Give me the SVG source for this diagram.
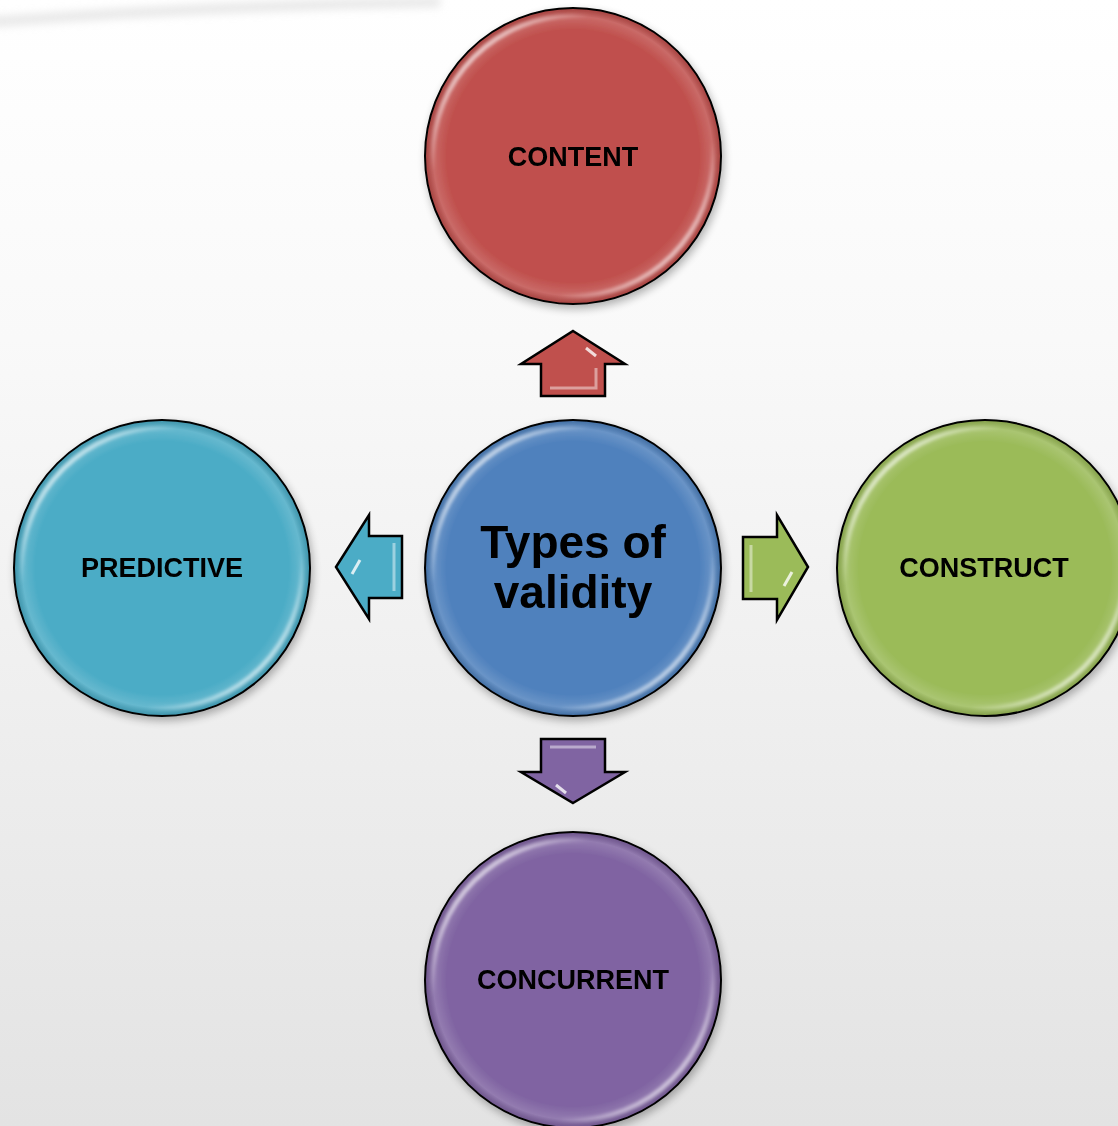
<svg xmlns="http://www.w3.org/2000/svg" width="1118" height="1126" viewBox="0 0 1118 1126">
<defs>
<linearGradient id="bg" x1="0" y1="0" x2="0" y2="1">
<stop offset="0" stop-color="#ffffff"/>
<stop offset="0.3" stop-color="#f9f9f9"/>
<stop offset="1" stop-color="#e3e3e3"/>
</linearGradient>
<linearGradient id="gloss" x1="0" y1="0" x2="1" y2="1">
<stop offset="0.05" stop-color="#fff" stop-opacity="0.95"/>
<stop offset="0.28" stop-color="#fff" stop-opacity="0"/>
<stop offset="0.72" stop-color="#fff" stop-opacity="0"/>
<stop offset="0.95" stop-color="#fff" stop-opacity="0.85"/>
</linearGradient>
<radialGradient id="rim">
<stop offset="0.86" stop-color="#fff" stop-opacity="0"/>
<stop offset="0.95" stop-color="#fff" stop-opacity="0.15"/>
<stop offset="1" stop-color="#000" stop-opacity="0.12"/>
</radialGradient>
<filter id="soft" x="-10%" y="-10%" width="120%" height="120%"><feGaussianBlur stdDeviation="1.4"/></filter>
<filter id="blur8" x="-10%" y="-200%" width="120%" height="500%"><feGaussianBlur stdDeviation="4"/></filter>
<filter id="shadow" x="-10%" y="-10%" width="125%" height="125%"><feGaussianBlur in="SourceAlpha" stdDeviation="4"/><feOffset dx="2" dy="4"/><feComponentTransfer><feFuncA type="linear" slope="0.3"/></feComponentTransfer><feMerge><feMergeNode/><feMergeNode in="SourceGraphic"/></feMerge></filter>
</defs>
<style>
.disc{stroke:#000;stroke-width:2}
.hl{fill:none;stroke:url(#gloss);stroke-width:5;filter:url(#soft)}
.rim{fill:url(#rim)}
.lbl{font-family:"Liberation Sans",Arial,sans-serif;font-weight:bold;font-size:27px;fill:#000;text-anchor:middle}
.big{font-family:"Liberation Sans",Arial,sans-serif;font-weight:bold;font-size:46px;fill:#000;text-anchor:middle}
.arr{stroke:#000;stroke-width:2.5;stroke-linejoin:miter}
.bev{fill:none;stroke:#fff;stroke-opacity:0.45;stroke-width:3}
</style>
<rect width="1118" height="1126" fill="url(#bg)"/>
<path d="M-10,22 C150,10 300,4 440,2" fill="none" stroke="#d8d8d8" stroke-width="10" opacity="0.6" filter="url(#blur8)"/>

<g id="connectors">
<g id="arrow-up">
<polygon class="arr" fill="#C0504D" points="573,331 625,364 605,364 605,396 541,396 541,364 521,364"/>
<polyline class="bev" points="550,388 596,388 596,368"/>
<line x1="586" y1="348" x2="596" y2="356" stroke="#fff" stroke-width="3" opacity="0.8"/>
</g>
<g id="arrow-left">
<polygon class="arr" fill="#4BACC6" points="336,567 369,515 369,536 402,536 402,598 369,598 369,619"/>
<polyline class="bev" points="394,543 394,591"/>
<line x1="360" y1="560" x2="352" y2="574" stroke="#fff" stroke-width="3" opacity="0.8"/>
</g>
<g id="arrow-right">
<polygon class="arr" fill="#9BBB59" points="808,567 777,515 777,537 743,537 743,599 777,599 777,620"/>
<polyline class="bev" points="751,545 751,592"/>
<line x1="792" y1="572" x2="784" y2="586" stroke="#fff" stroke-width="3" opacity="0.8"/>
</g>
<g id="arrow-down">
<polygon class="arr" fill="#8064A2" points="573,803 625,772 605,772 605,739 541,739 541,772 521,772"/>
<polyline class="bev" points="550,747 596,747"/>
<line x1="556" y1="785" x2="566" y2="793" stroke="#fff" stroke-width="3" opacity="0.8"/>
</g>
</g>

<g id="node-content" filter="url(#shadow)">
<circle class="disc" cx="573" cy="156" r="148" fill="#C0504D"/>
<circle class="rim" cx="573" cy="156" r="147"/>
<circle class="hl" cx="573" cy="156" r="140"/>
<text class="lbl" x="573" y="166">CONTENT</text>
</g>

<g id="node-predictive" filter="url(#shadow)">
<circle class="disc" cx="162" cy="568" r="148" fill="#4BACC6"/>
<circle class="rim" cx="162" cy="568" r="147"/>
<circle class="hl" cx="162" cy="568" r="140"/>
<text class="lbl" x="162" y="577">PREDICTIVE</text>
</g>

<g id="node-center" filter="url(#shadow)">
<circle class="disc" cx="573" cy="568" r="148" fill="#4F81BD"/>
<circle class="rim" cx="573" cy="568" r="147"/>
<circle class="hl" cx="573" cy="568" r="140"/>
<text class="big" x="573" y="558">Types of</text>
<text class="big" x="573" y="608">validity</text>
</g>

<g id="node-construct" filter="url(#shadow)">
<circle class="disc" cx="985" cy="568" r="148" fill="#9BBB59"/>
<circle class="rim" cx="985" cy="568" r="147"/>
<circle class="hl" cx="985" cy="568" r="140"/>
<text class="lbl" x="984" y="577">CONSTRUCT</text>
</g>

<g id="node-concurrent" filter="url(#shadow)">
<circle class="disc" cx="573" cy="980" r="148" fill="#8064A2"/>
<circle class="rim" cx="573" cy="980" r="147"/>
<circle class="hl" cx="573" cy="980" r="140"/>
<text class="lbl" x="573" y="989">CONCURRENT</text>
</g>
</svg>
